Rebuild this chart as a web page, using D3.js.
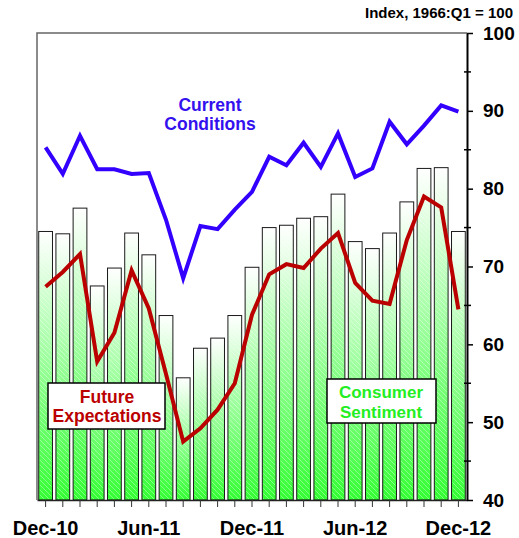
<!DOCTYPE html>
<html>
<head>
<meta charset="utf-8">
<script src="https://cdn.jsdelivr.net/npm/d3@7"></script>
<style>
  body { margin: 0; background: #fff; }
  svg { display: block; font-family: "Liberation Sans", Arial, sans-serif; font-weight: bold; }
</style>
</head>
<body>
<svg id="chart" width="519" height="538"></svg>
<script>
// monthly, Dec-10 .. Dec-12
var months = ['Dec-10','Jan-11','Feb-11','Mar-11','Apr-11','May-11','Jun-11','Jul-11','Aug-11','Sep-11','Oct-11','Nov-11',
              'Dec-11','Jan-12','Feb-12','Mar-12','Apr-12','May-12','Jun-12','Jul-12','Aug-12','Sep-12','Oct-12','Nov-12','Dec-12'];
var sentiment = [74.5, 74.2, 77.5, 67.5, 69.8, 74.3, 71.5, 63.7, 55.7, 59.5, 60.8, 63.7,
                 69.9, 75.0, 75.3, 76.2, 76.4, 79.3, 73.2, 72.3, 74.3, 78.3, 82.6, 82.7, 74.5];
var current = [85.3, 81.9, 86.8, 82.5, 82.5, 81.9, 82.0, 76.0, 68.5, 75.2, 74.8, 77.3,
               79.6, 84.1, 83.0, 85.9, 82.8, 87.1, 81.5, 82.6, 88.6, 85.7, 88.1, 90.7, 89.9];
var expectations = [67.4, 69.3, 71.6, 57.8, 61.5, 69.5, 64.6, 56.2, 47.5, 49.2, 51.6, 55.0,
                    63.8, 69.0, 70.3, 69.8, 72.3, 74.3, 67.9, 65.6, 65.2, 73.4, 79.0, 77.6, 64.5];
var xLabels = ['Dec-10','Jun-11','Dec-11','Jun-12','Dec-12'];
var yTicks = [40, 50, 60, 70, 80, 90, 100];
var yMinor = [45, 55, 65, 75, 85, 95];

var svg = d3.select('#chart');
var plotL = 37, plotR = 467, plotT = 33, plotB = 500;

var x = d3.scaleBand().domain(months).range([plotL, plotR]).paddingInner(0.2).paddingOuter(0.1);
var y = d3.scaleLinear().domain([40, 100]).range([plotB, plotT]);

var defs = svg.append('defs');
var grad = defs.append('linearGradient').attr('id', 'barGrad')
    .attr('x1', 0).attr('y1', 0).attr('x2', 0).attr('y2', 1);
grad.append('stop').attr('offset', '0%').attr('stop-color', '#ffffff');
grad.append('stop').attr('offset', '100%').attr('stop-color', '#33ff33');

var hatch = defs.append('pattern').attr('id', 'hatch')
    .attr('patternUnits', 'userSpaceOnUse').attr('width', 5).attr('height', 5);
hatch.append('path').attr('d', 'M0,0L5,5M-1,4L1,6M4,-1L6,1')
    .attr('stroke', '#ffffff').attr('stroke-width', 0.8).attr('opacity', 0.45);

// frame (left + top)
svg.append('path')
    .attr('d', 'M' + plotL + ',' + plotB + 'V' + plotT + 'H' + plotR)
    .attr('fill', 'none').attr('stroke', '#666').attr('stroke-width', 1.5);

// bars
var bars = svg.append('g');
bars.selectAll('rect.bar')
    .data(sentiment)
    .enter()
    .append('rect')
    .attr('class', 'bar')
    .attr('x', function(d, i) { return x(months[i]); })
    .attr('y', function(d) { return y(d); })
    .attr('width', x.bandwidth())
    .attr('height', function(d) { return plotB - y(d); })
    .attr('fill', 'url(#barGrad)')
    .attr('stroke', '#1a1a1a')
    .attr('stroke-width', 1);
bars.selectAll('rect.hatch')
    .data(sentiment)
    .enter()
    .append('rect')
    .attr('class', 'hatch')
    .attr('x', function(d, i) { return x(months[i]) + 1; })
    .attr('y', function(d) { return y(d) + 1; })
    .attr('width', x.bandwidth() - 2)
    .attr('height', function(d) { return plotB - y(d) - 2; })
    .attr('fill', 'url(#hatch)');

// lines
var line = d3.line()
    .x(function(d, i) { return x(months[i]) + x.bandwidth() / 2; })
    .y(function(d) { return y(d); });

svg.append('path').datum(current)
    .attr('d', line)
    .attr('fill', 'none').attr('stroke', '#3300ff').attr('stroke-width', 4)
    .attr('stroke-linejoin', 'miter');
svg.append('path').datum(expectations)
    .attr('d', line)
    .attr('fill', 'none').attr('stroke', '#bb0000').attr('stroke-width', 4)
    .attr('stroke-linejoin', 'miter');

// bottom axis
var xAxis = svg.append('g')
    .attr('transform', 'translate(0,' + plotB + ')')
    .call(d3.axisBottom(x).tickSize(7).tickPadding(14).tickSizeOuter(0)
        .tickFormat(function(d) { return xLabels.indexOf(d) != -1 ? d : ''; }));
xAxis.select('.domain').attr('stroke', '#222').attr('stroke-width', 1.5);
xAxis.selectAll('.tick line').attr('stroke', '#333');
xAxis.selectAll('text').attr('font-size', '20px').attr('font-weight', 'bold')
    .attr('font-family', '"Liberation Sans", Arial, sans-serif').attr('fill', '#000');

// right axis
var yAxis = svg.append('g')
    .attr('transform', 'translate(' + plotR + ',0)')
    .call(d3.axisRight(y).tickValues(yTicks).tickSize(6).tickPadding(10).tickSizeOuter(0));
yAxis.select('.domain').attr('stroke', '#000').attr('stroke-width', 2);
yAxis.selectAll('.tick line').attr('stroke', '#000').attr('stroke-width', 1.5);
yAxis.selectAll('text').attr('font-size', '19px').attr('font-weight', 'bold')
    .attr('font-family', '"Liberation Sans", Arial, sans-serif').attr('fill', '#000');
yAxis.selectAll('line.minor')
    .data(yMinor)
    .enter()
    .append('line')
    .attr('class', 'minor')
    .attr('x1', -3).attr('x2', 4)
    .attr('y1', function(d) { return y(d); })
    .attr('y2', function(d) { return y(d); })
    .attr('stroke', '#000').attr('stroke-width', 1.5);

// title
svg.append('text')
    .attr('x', 513).attr('y', 18)
    .attr('text-anchor', 'end')
    .attr('font-size', '15px')
    .text('Index, 1966:Q1 = 100');

// series labels
var cc = svg.append('text').attr('text-anchor', 'middle').attr('font-size', '17.5px').attr('fill', '#3311ee');
cc.append('tspan').attr('x', 210).attr('y', 111).text('Current');
cc.append('tspan').attr('x', 210).attr('y', 130).text('Conditions');

svg.append('rect').attr('x', 48).attr('y', 383).attr('width', 117).attr('height', 46)
    .attr('fill', '#fff').attr('stroke', '#000').attr('stroke-width', 1.5);
var fe = svg.append('text').attr('text-anchor', 'middle').attr('font-size', '17.5px').attr('fill', '#bb0000');
fe.append('tspan').attr('x', 107).attr('y', 403).text('Future');
fe.append('tspan').attr('x', 107).attr('y', 422).text('Expectations');

svg.append('rect').attr('x', 327).attr('y', 379).attr('width', 109).attr('height', 44)
    .attr('fill', '#fff').attr('stroke', '#000').attr('stroke-width', 1.5);
var cs = svg.append('text').attr('text-anchor', 'middle').attr('font-size', '17px').attr('fill', '#22ee22');
cs.append('tspan').attr('x', 381).attr('y', 398).text('Consumer');
cs.append('tspan').attr('x', 381).attr('y', 418).text('Sentiment');
</script>
</body>
</html>
